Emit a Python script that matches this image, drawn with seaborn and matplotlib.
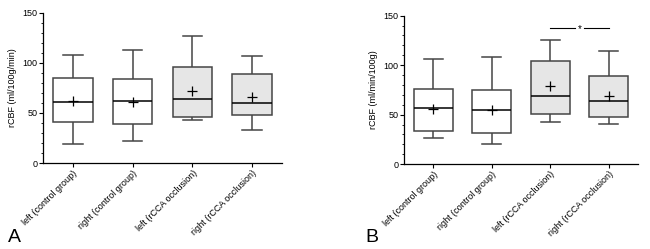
import numpy as np
import pandas as pd
import seaborn as sns
import matplotlib.pyplot as plt
from matplotlib.ticker import MultipleLocator

groups = ['left (control group)', 'right (control group)',
          'left (rCCA occlusion)', 'right (rCCA occlusion)']

# five-number summaries (min, Q1, median, Q3, max)
a_min = [19, 22, 42.5, 33.5]
a_q1 = [40.5, 39, 45.5, 47.5]
a_med = [61, 61.5, 63.5, 60]
a_q3 = [85, 83.5, 96, 89]
a_max = [108, 113, 127, 107]
a_mean = [62, 61, 72, 66]

b_min = [26, 20.5, 43, 40.5]
b_q1 = [33.5, 31, 51, 48]
b_med = [56.5, 54.5, 69, 64]
b_q3 = [76, 75, 104, 89]
b_max = [106, 108, 125, 114]
b_mean = [56, 54.5, 79, 68.5]

sig_y = 138

fills = ['white', 'white', '#e6e6e6', '#e6e6e6']

plt.rcParams['font.family'] = ['Liberation Sans', 'DejaVu Sans']


def make_df(mn, q1, med, q3, mx):
    rows = []
    for g, vals in zip(groups, zip(mn, q1, med, q3, mx)):
        for v in vals:
            rows.append({'group': g, 'value': v})
    return pd.DataFrame(rows)


def draw(ax, mn, q1, med, q3, mx, mean, ylabel):
    df = make_df(mn, q1, med, q3, mx)
    sns.boxplot(data=df, x='group', y='value', hue='group', palette=fills,
                whis=(0, 100), width=0.66, linecolor='#454545', linewidth=1.1,
                medianprops=dict(color='black', linewidth=1.1),
                showfliers=False, legend=False, ax=ax)
    means = pd.DataFrame({'group': groups, 'value': mean})
    sns.stripplot(data=means, x='group', y='value', marker='+', color='black',
                  s=7, linewidth=0.9, jitter=False, ax=ax)
    ax.set_xlim(-0.5, 3.5)
    ax.set_ylim(0, 150)
    ax.yaxis.set_major_locator(MultipleLocator(50))
    ax.yaxis.set_minor_locator(MultipleLocator(10))
    ax.tick_params(axis='both', which='major', length=3, width=0.8, labelsize=6.5, pad=1)
    ax.tick_params(axis='y', which='minor', length=1.5, width=0.6)
    ax.set_xticks(range(4))
    ax.set_xticklabels(groups, rotation=45, ha='right', rotation_mode='anchor', fontsize=6.5)
    ax.set_xlabel('')
    ax.set_ylabel(ylabel, fontsize=6.5)
    for s in ['top', 'right']:
        ax.spines[s].set_visible(False)
    for s in ['left', 'bottom']:
        ax.spines[s].set_linewidth(0.9)


fig = plt.figure(figsize=(6.5, 2.49), dpi=100)
ax1 = fig.add_axes([0.066, 0.345, 0.368, 0.604])
ax2 = fig.add_axes([0.6215, 0.341, 0.36, 0.596])

draw(ax1, a_min, a_q1, a_med, a_q3, a_max, a_mean, 'rCBF (ml/100g/min)')
draw(ax2, b_min, b_q1, b_med, b_q3, b_max, b_mean, 'rCBF (ml/min/100g)')

# significance bar between the two occlusion groups
ax2.plot([2, 2.43], [sig_y, sig_y], color='black', linewidth=0.8)
ax2.plot([2.57, 3], [sig_y, sig_y], color='black', linewidth=0.8)
ax2.text(2.5, sig_y - 1.5, '*', ha='center', va='center', fontsize=7)

fig.text(0.012, 0.03, 'A', fontsize=14)
fig.text(0.562, 0.03, 'B', fontsize=14)

plt.savefig('out.png', dpi=100)
